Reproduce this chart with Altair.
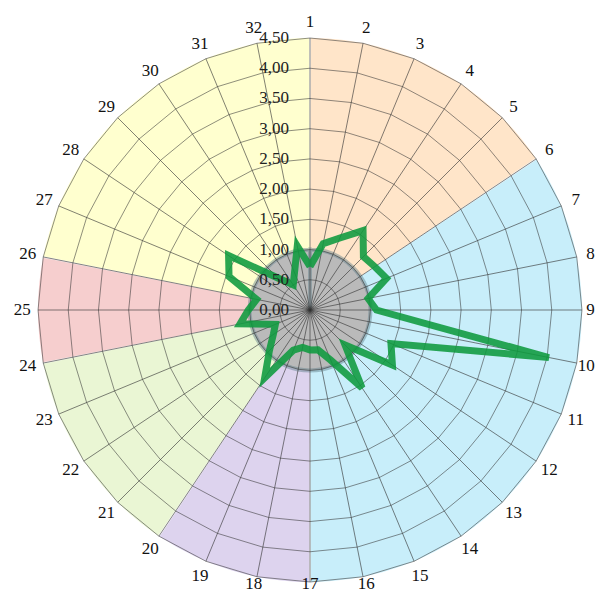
import altair as alt
import pandas as pd

# ---- data ----
spokes = list(range(1, 33))
values = [0.72, 1.12, 1.29, 1.58, 1.25, 1.29, 1.37, 0.98, 1.10, 4.03,
          1.45, 1.64, 0.82, 1.55, 0.90, 0.67, 0.66, 0.63, 0.72, 1.35,
          0.95, 0.73, 0.62, 1.18, 1.02, 0.90, 1.45, 1.62, 0.75, 0.50,
          0.67, 1.08]
ticks = [0.0, 0.5, 1.0, 1.5, 2.0, 2.5, 3.0, 3.5, 4.0, 4.5]
group_names = ["orange", "blue", "purple", "green", "red", "yellow"]
group_start = [1, 6, 17, 20, 24, 26]
group_end = [6, 17, 20, 24, 26, 33]
group_colors = ["#ffe5c9", "#c8eefa", "#ddd3ee", "#eaf6d4", "#f6cece", "#ffffcf"]
inner_value = [1.0]

N = len(spokes)
RMAX = max(ticks)

# ---- tables built from the arrays ----
sect_df = pd.DataFrame({"name": group_names,
                        "t0": [s - 1 for s in group_start],
                        "t1": [e - 1 for e in group_end],
                        "r": [RMAX] * len(group_names)})
line_df = pd.DataFrame({"idx": [s - 1 for s in spokes] + [0],
                        "v": values + [values[0]],
                        "ord": list(range(N + 1))})
ring_df = pd.DataFrame([{"ring": t, "idx": i} for t in ticks[1:] for i in range(N + 1)])
spoke_df = pd.DataFrame({"idx": [s - 1 for s in spokes], "label": [str(s) for s in spokes]})
tick_df = pd.DataFrame({"v": ticks})
inner_df = pd.DataFrame({"r": inner_value, "t0": [0], "t1": [N]})

K = 60.44  # px per unit
W, H = 572, 564
xs = alt.Scale(domain=[-(W / 2) / K, (W / 2) / K], nice=False, zero=False)
ys = alt.Scale(domain=[-(H / 2) / K, (H / 2) / K], nice=False, zero=False)
th = alt.Scale(domain=[0, N], range=[0, 6.283185307])
rs = alt.Scale(domain=[0, RMAX], range=[0, RMAX * K], zero=True, nice=False)

ang = f"2*PI*datum.idx/{N}"

sectors = alt.Chart(sect_df).mark_arc(padAngle=0.006).encode(
    theta=alt.Theta("t0:Q", scale=th),
    theta2="t1:Q",
    radius=alt.Radius("r:Q", scale=rs),
    color=alt.Color("name:N", scale=alt.Scale(domain=group_names, range=group_colors), legend=None),
)

inner = alt.Chart(inner_df).mark_arc(fill="#bababa", stroke="#5f7f8a", strokeOpacity=0.45,
                                     strokeWidth=4).encode(
    theta=alt.Theta("t0:Q", scale=th),
    theta2="t1:Q",
    radius=alt.Radius("r:Q", scale=rs),
)

rings = alt.Chart(ring_df).transform_calculate(
    x=f"datum.ring*sin({ang})", y=f"datum.ring*cos({ang})"
).mark_line(color="#333333", strokeWidth=1, opacity=0.55).encode(
    x=alt.X("x:Q", scale=xs, axis=None),
    y=alt.Y("y:Q", scale=ys, axis=None),
    detail="ring:N",
    order="idx:Q",
)

spoke_lines = alt.Chart(spoke_df).transform_calculate(
    x0="0", y0="0",
    x1=f"{RMAX}*sin({ang})", y1=f"{RMAX}*cos({ang})"
).mark_rule(color="#333333", strokeWidth=1, opacity=0.62).encode(
    x=alt.X("x0:Q", scale=xs, axis=None),
    y=alt.Y("y0:Q", scale=ys, axis=None),
    x2="x1:Q",
    y2="y1:Q",
)

series = alt.Chart(line_df).transform_calculate(
    x=f"datum.v*sin({ang})", y=f"datum.v*cos({ang})"
).mark_line(color="#0e9a3e", strokeWidth=7, opacity=0.88, strokeJoin="miter").encode(
    x=alt.X("x:Q", scale=xs, axis=None),
    y=alt.Y("y:Q", scale=ys, axis=None),
    order="ord:Q",
)

tick_labels = alt.Chart(tick_df).transform_calculate(
    x0="0", lab="replace(format(datum.v, '.2f'), '.', ',')"
).mark_text(align="right", baseline="middle", dx=-21, font="Liberation Serif",
            fontSize=17, color="#222222").encode(
    x=alt.X("x0:Q", scale=xs, axis=None),
    y=alt.Y("v:Q", scale=ys, axis=None),
    text="lab:N",
)

# spoke labels on a ring just outside the grid, kept inside the page at right and bottom
spoke_labels = alt.Chart(spoke_df).transform_calculate(
    x=f"min(4.76*sin({ang}), (285 - 4.4*length(datum.label))/{K})",
    y=f"max(4.76*cos({ang}), -273.5/{K})"
).mark_text(align="center", baseline="middle", font="Liberation Serif",
            fontSize=17, color="#111111").encode(
    x=alt.X("x:Q", scale=xs, axis=None),
    y=alt.Y("y:Q", scale=ys, axis=None),
    text="label:N",
)

chart = alt.layer(sectors, inner, rings, spoke_lines, series, tick_labels, spoke_labels).properties(
    width=W, height=H,
    autosize=alt.AutoSizeParams(type="none"),
    padding={"left": 16, "top": 20, "right": 0, "bottom": 1},
).configure_view(stroke=None)

chart.save("out.html", embed_options={"renderer": "svg", "actions": False})
